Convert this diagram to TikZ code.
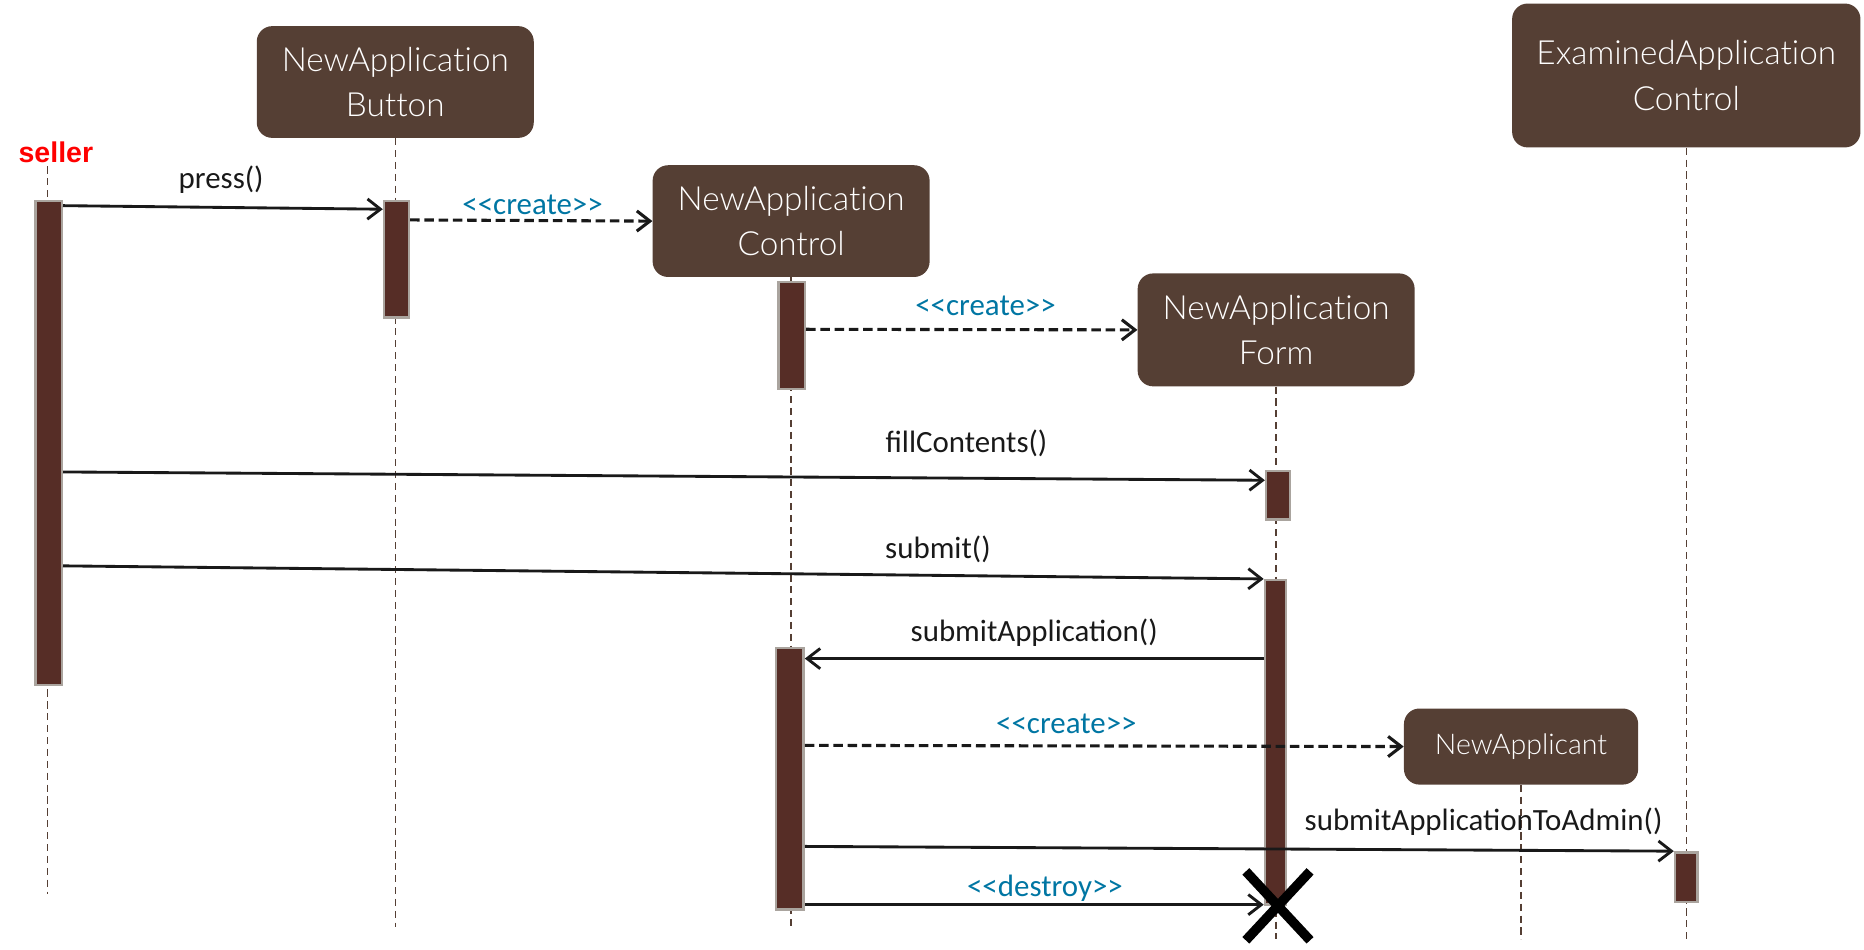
\documentclass[tikz,border=0pt]{standalone}
\usepackage{fontspec}
\newfontfamily\boxfont{Lato Light}[Ligatures=NoCommon]
\newfontfamily\msgfont{Carlito}
\newfontfamily\actorfont{Liberation Sans}
\usepackage{tikz}
\usetikzlibrary{arrows.meta, positioning, shapes.misc}

\definecolor{boxbrown}{RGB}{85,63,52}
\definecolor{actbrown}{RGB}{86,45,38}
\definecolor{actgray}{RGB}{170,164,158}
\definecolor{stereoblue}{RGB}{0,118,163}

\begin{document}
\begin{tikzpicture}[x=1pt, y=-1pt,
  >={Straight Barb[length=11pt, width=17pt]},
  obj/.style={rectangle, rounded corners=13pt, fill=boxbrown, text=white, align=center,
    font=\boxfont\fontsize{28}{38}\selectfont, minimum width=233pt, minimum height=94pt},
  act/.style={rectangle, draw=actgray, line width=2pt, fill=actbrown, anchor=north,
    minimum width=20pt, inner sep=0pt},
  life/.style={draw=boxbrown, line width=1.2pt, dash pattern=on 6pt off 4pt},
  msg/.style={->, line width=2.4pt, black!90},
  create/.style={msg, line width=2.6pt, dash pattern=on 8pt off 4pt},
  lbl/.style={font=\msgfont\fontsize{26}{30}\selectfont, text=black!90, inner sep=0pt},
  stereo/.style={lbl, text=stereoblue}
]
  \useasboundingbox (0,0) rectangle (1568,799);

  % objects
  \node[font=\actorfont\bfseries\fontsize{24}{28}\selectfont, text=red, inner sep=0pt] (seller) at (47,128) {seller};
  \node[obj] (btn) at (332.5,69) {NewApplication\\Button};
  \node[obj] (ctl) at (665.5,186) {NewApplication\\Control};
  \node[obj, minimum height=95pt] (frm) at (1073.5,277.5) {NewApplication\\Form};
  \node[obj, minimum width=197pt, minimum height=64pt, font=\boxfont\fontsize{24}{30}\selectfont] (app) at (1279.5,628) {NewApplicant};
  \node[obj, minimum width=293pt, minimum height=121pt] (exa) at (1418.5,63.5) {ExaminedApplication\\Control};

  % lifelines
  \coordinate (sel-top) at (40,140);
  \coordinate (sel-end) at (40,752);
  \draw[life] (sel-top) -- (sel-end);
  \draw[life] (btn.south) -- ++(0,664);
  \draw[life] (ctl.south) -- ++(0,547);
  \draw[life] (frm.south) -- ++(0,465);
  \draw[life] (app.south) -- ++(0,130);
  \draw[life] (exa.south) -- ++(0,666);

  % activations
  \node[act, minimum width=22pt, minimum height=407pt] (sA) at (41,168) {};
  \node[act, minimum width=21pt, minimum height=98pt] (bA) at (333.5,168) {};
  \node[act, minimum width=22pt, minimum height=90pt] (cA1) at (666,236) {};
  \node[act, minimum width=23pt, minimum height=220pt] (cA2) at (664.5,544) {};
  \node[act, minimum height=41pt] (fA1) at (1075,395) {};
  \node[act, minimum width=18pt, minimum height=273pt] (fA2) at (1073,487) {};
  \node[act, minimum width=19pt, minimum height=42pt] (eA) at (1418.5,716) {};

  % messages
  \draw[msg] ([yshift=-5pt]sA.north east) -- ([yshift=-8pt]bA.north west);
  \node[lbl] (l-press) at (186,151) {press()};
  \draw[create] ([yshift=-17pt]bA.north east) -- (ctl.west);
  \node[stereo] (l-create1) at (448,172) {<\kern0pt<create>\kern0pt>};
  \draw[create] ([yshift=-41pt]cA1.north east) -- (frm.west);
  \node[stereo] (l-create2) at (829,257) {<\kern0pt<create>\kern0pt>};
  \draw[msg] ([yshift=-229pt]sA.north east) -- ([yshift=-9pt]fA1.north west);
  \node[lbl] (l-fill) at (813,373) {fillContents()};
  \draw[msg] ([yshift=-308pt]sA.north east) -- (fA2.north west);
  \node[lbl] (l-submit) at (789,462) {submit()};
  \draw[msg] ([yshift=-67pt]fA2.north west) -- ([yshift=-10pt]cA2.north east);
  \node[lbl] (l-subapp) at (870,532) {submitApplication()};
  \draw[create] ([yshift=-83pt]cA2.north east) -- (app.west);
  \node[stereo] (l-create3) at (897,609) {<\kern0pt<create>\kern0pt>};
  \draw[msg] ([yshift=-168pt]cA2.north east) -- (eA.north west);
  \node[lbl] (l-admin) at (1248,691) {submitApplicationToAdmin()};
  \draw[msg] ([yshift=5pt]cA2.south east) -- ([yshift=1pt]fA2.south west);
  \node[stereo] (l-destroy) at (879,747) {<\kern0pt<destroy>\kern0pt>};

  % end of form
  \node[draw, cross out, line width=8pt, minimum width=46pt, minimum height=50pt, inner sep=0pt] (kill) at (1075,762) {};
\end{tikzpicture}
\end{document}
